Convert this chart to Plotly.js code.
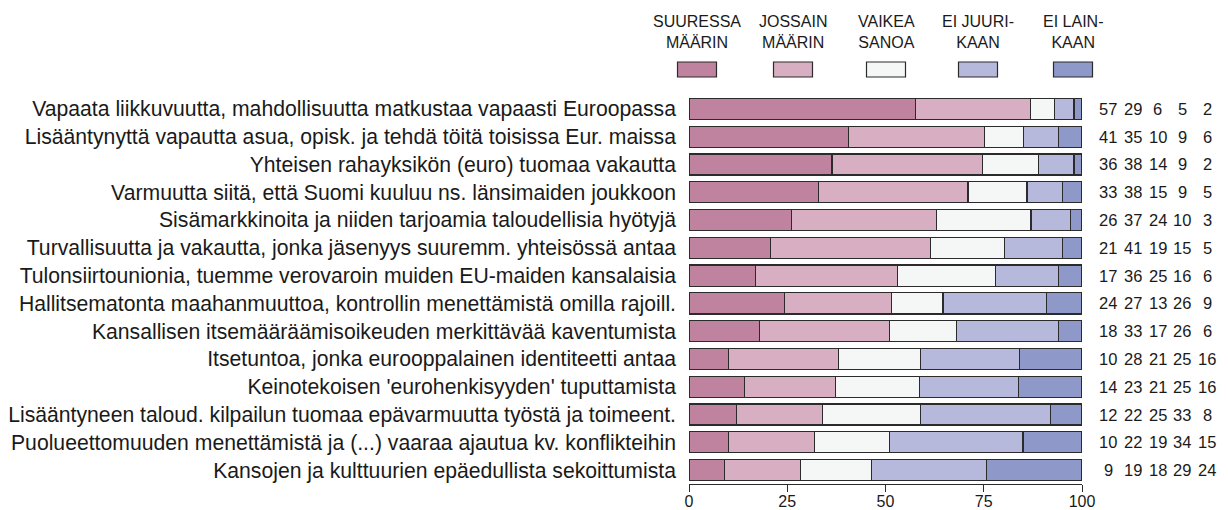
<!DOCTYPE html>
<html>
<head>
<meta charset="utf-8">
<script src="https://cdn.plot.ly/plotly-3.0.1.min.js"></script>
<style>html,body{margin:0;padding:0;background:#fff;}#chart{width:1228px;height:510px;}</style>
</head>
<body>
<div id="chart"></div>
<script>
const categories = [
  "Vapaata liikkuvuutta, mahdollisuutta matkustaa vapaasti Euroopassa",
  "Lisääntynyttä vapautta asua, opisk. ja tehdä töitä toisissa Eur. maissa",
  "Yhteisen rahayksikön (euro) tuomaa vakautta",
  "Varmuutta siitä, että Suomi kuuluu ns. länsimaiden joukkoon",
  "Sisämarkkinoita ja niiden tarjoamia taloudellisia hyötyjä",
  "Turvallisuutta ja vakautta, jonka jäsenyys suuremm. yhteisössä antaa",
  "Tulonsiirtounionia, tuemme verovaroin muiden EU-maiden kansalaisia",
  "Hallitsematonta maahanmuuttoa, kontrollin menettämistä omilla rajoill.",
  "Kansallisen itsemääräämisoikeuden merkittävää kaventumista",
  "Itsetuntoa, jonka eurooppalainen identiteetti antaa",
  "Keinotekoisen 'eurohenkisyyden' tuputtamista",
  "Lisääntyneen taloud. kilpailun tuomaa epävarmuutta työstä ja toimeent.",
  "Puolueettomuuden menettämistä ja (...) vaaraa ajautua kv. konflikteihin",
  "Kansojen ja kulttuurien epäedullista sekoittumista"
];
const seriesNames = ["SUURESSA<br>MÄÄRIN", "JOSSAIN<br>MÄÄRIN", "VAIKEA<br>SANOA", "EI JUURI-<br>KAAN", "EI LAIN-<br>KAAN"];
const suuressa = [57, 41, 36, 33, 26, 21, 17, 24, 18, 10, 14, 12, 10, 9];
const jossain  = [29, 35, 38, 38, 37, 41, 36, 27, 33, 28, 23, 22, 22, 19];
const vaikea   = [6, 10, 14, 15, 24, 19, 25, 13, 17, 21, 21, 25, 19, 18];
const eiJuuri  = [5, 9, 9, 9, 10, 15, 16, 26, 26, 25, 25, 33, 34, 29];
const eiLain   = [2, 6, 2, 5, 3, 5, 6, 9, 6, 16, 16, 8, 15, 24];
const colors = ["#bf829f", "#d8aec2", "#f5f7f6", "#b6b9dc", "#8e98c9"];
const xTicks = [0, 25, 50, 75, 100];

const series = [suuressa, jossain, vaikea, eiJuuri, eiLain];

// layout geometry (pixels)
const W = 1228, H = 510;
const L = 689, R = 1082, T = 95, B = 484;
const pxX = p => (p - L) / (R - L);
const pxY = p => (B - p) / (B - T);

const traces = series.map((vals, j) => ({
  type: "bar",
  orientation: "h",
  name: seriesNames[j],
  x: vals,
  y: categories,
  width: 0.76,
  marker: {color: colors[j], line: {color: "#2b2b2b", width: 1.2}},
  hoverinfo: "none",
  showlegend: false
}));

const annotations = [];
const shapes = [];
const colCenters = [1108, 1133, 1157.5, 1182, 1207];
series.forEach((vals, j) => {
  vals.forEach((v, i) => {
    annotations.push({
      xref: "paper", yref: "y", x: pxX(colCenters[j]), y: categories[i],
      text: String(v), showarrow: false, xanchor: "center", yanchor: "middle",
      font: {family: "Liberation Sans, Arial, sans-serif", size: 16.5, color: "#1a1a1a"}
    });
  });
});

const legCenters = [697, 793, 886, 978, 1073];
seriesNames.forEach((n, j) => {
  annotations.push({
    xref: "paper", yref: "paper", x: pxX(legCenters[j]), y: pxY(32),
    text: n, showarrow: false, xanchor: "center", yanchor: "middle",
    font: {family: "Liberation Sans, Arial, sans-serif", size: 16, color: "#1a1a1a"}
  });
  shapes.push({
    type: "rect", xref: "paper", yref: "paper",
    x0: pxX(legCenters[j] - 19.5), x1: pxX(legCenters[j] + 19.5),
    y0: pxY(62), y1: pxY(77),
    fillcolor: colors[j], line: {color: "#2b2b2b", width: 1.2}
  });
});

const layout = {
  width: W, height: H,
  margin: {l: L, r: W - R, t: T, b: H - B, pad: 0},
  paper_bgcolor: "#ffffff", plot_bgcolor: "#ffffff",
  barmode: "stack",
  barnorm: "percent",
  showlegend: false,
  font: {family: "Liberation Sans, Arial, sans-serif", color: "#1a1a1a"},
  xaxis: {
    range: [0, 100], tickvals: xTicks, ticktext: xTicks.map(String),
    showgrid: false, zeroline: false, showline: true, linecolor: "#2b2b2b", linewidth: 1,
    ticks: "outside", ticklen: 7, tickcolor: "#2b2b2b", tickwidth: 1,
    ticklabelstandoff: -4,
    tickfont: {size: 16, color: "#1a1a1a"}, automargin: false, fixedrange: true
  },
  yaxis: {
    autorange: "reversed", type: "category",
    showgrid: false, zeroline: false, showline: false, ticks: "",
    ticklabelstandoff: 12,
    tickfont: {size: 21.2, color: "#1a1a1a"}, automargin: false, fixedrange: true
  },
  annotations: annotations,
  shapes: shapes
};

Plotly.newPlot("chart", traces, layout, {displayModeBar: false, staticPlot: true});
</script>
</body>
</html>
